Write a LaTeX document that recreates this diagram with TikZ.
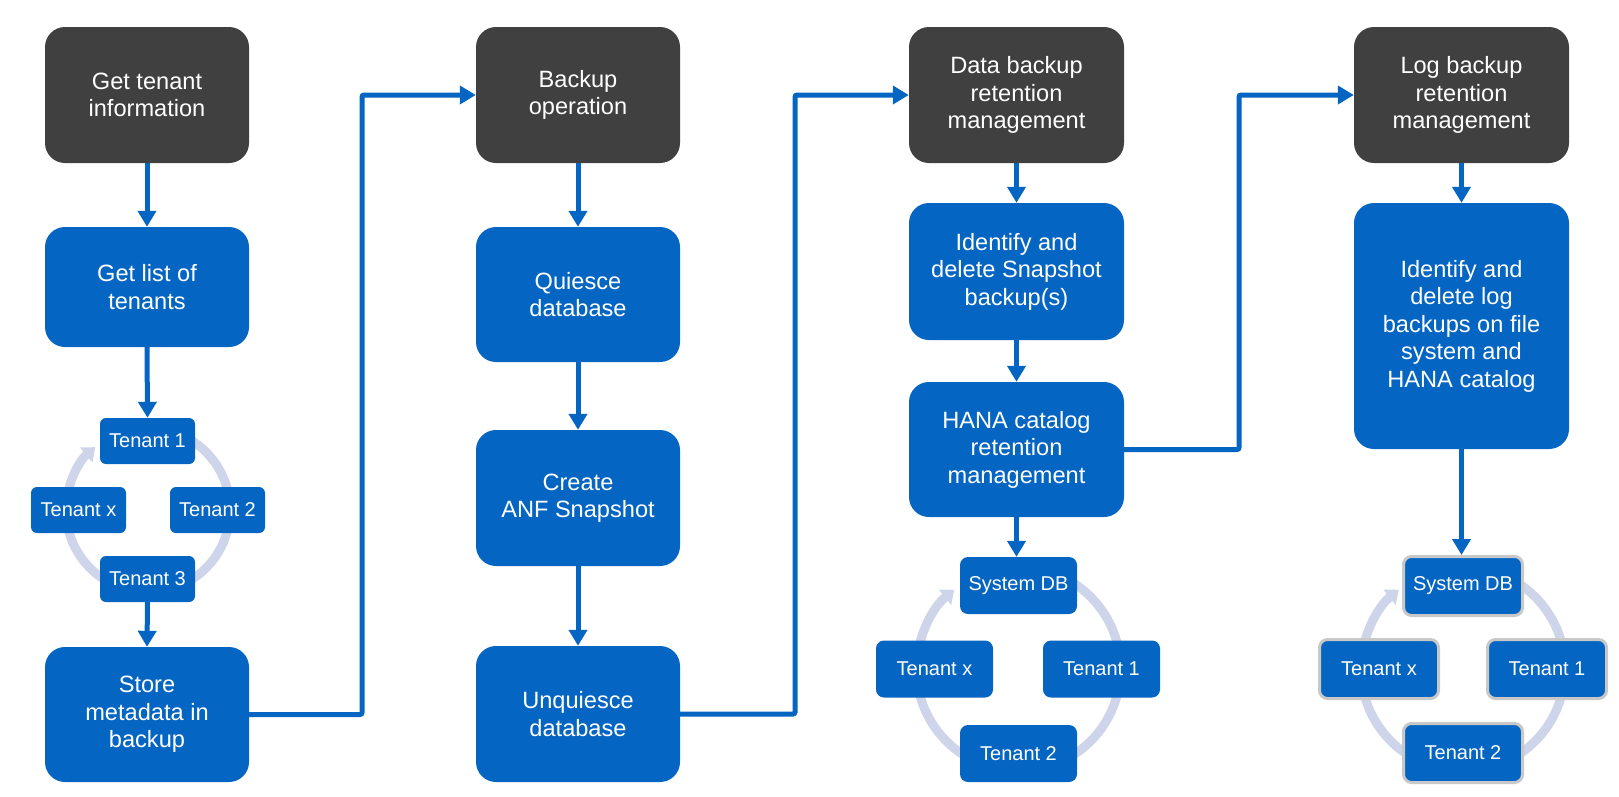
\documentclass[tikz,border=0pt]{standalone}
\usepackage{fontspec}
\setmainfont{Liberation Sans}
\usetikzlibrary{arrows.meta}
\definecolor{boxdark}{RGB}{64,64,64}
\definecolor{boxblue}{RGB}{5,101,194}
\definecolor{ringc}{RGB}{206,212,234}
\definecolor{rimc}{RGB}{200,200,200}
\begin{document}
\begin{tikzpicture}[x=1pt,y=-1pt,
 big/.style={rectangle, rounded corners=20pt, inner sep=0pt, align=center, text=white, font=\fontsize{23.6}{27.5}\selectfont},
 darkbox/.style={big, fill=boxdark},
 bluebox/.style={big, fill=boxblue},
 colA/.style={minimum width=204pt},
 colB/.style={minimum width=215pt},
 tsmall/.style={rectangle, rounded corners=6pt, fill=boxblue, text=white, inner sep=0pt, font=\fontsize{20}{24}\selectfont, minimum width=95pt, minimum height=46pt},
 tmid/.style={rectangle, rounded corners=8pt, fill=boxblue, text=white, inner sep=0pt, font=\fontsize{20}{24}\selectfont, minimum width=117pt, minimum height=57pt},
 tring/.style={rectangle, rounded corners=8pt, fill=boxblue, draw=rimc, line width=3pt, text=white, inner sep=0pt, font=\fontsize{20}{24}\selectfont, minimum width=119pt, minimum height=59pt},
 flow/.style={draw=boxblue, line width=5pt, -{Triangle[width=18pt,length=16pt]}},
 ring/.style={draw=ringc, line width=9pt, -{Triangle[width=19pt,length=12pt]}},
]
\useasboundingbox (0,0) rectangle (1619,796);

% cycle rings (drawn first, under boxes); y axis points down, so angles are mirrored
\draw[ring] (148,510) ++(-80:82) arc[start angle=-80, end angle=230, radius=82];
\draw[ring] (1018.5,669) ++(-80:102) arc[start angle=-80, end angle=231, radius=102];
\draw[ring] (1463,669) ++(-80:102) arc[start angle=-80, end angle=231, radius=102];

% column 1
\node[darkbox, colA, minimum height=136pt] (d1) at (147,95) {Get tenant\\information};
\node[bluebox, colA, minimum height=120pt] (g1) at (147,287) {Get list of\\tenants};
\node[tsmall] (t1) at (147.5,441) {Tenant 1};
\node[tsmall] (tx) at (78.5,510) {Tenant x};
\node[tsmall] (t2) at (217.5,510) {Tenant 2};
\node[tsmall] (t3) at (147.5,579) {Tenant 3};
\node[bluebox, colA, minimum height=135pt] (st) at (147,714.5) {Store\\metadata in\\backup};

% column 2
\node[darkbox, colA, minimum height=136pt] (d2) at (578,95) {Backup\\operation};
\node[bluebox, colA, minimum height=135pt] (qu) at (578,294.5) {Quiesce\\database};
\node[bluebox, colA, minimum height=136pt] (cr) at (578,498) {Create\\ANF Snapshot};
\node[bluebox, colA, minimum height=136pt] (un) at (578,714) {Unquiesce\\database};

% column 3
\node[darkbox, colB, minimum height=136pt] (d3) at (1016.5,95) {Data backup\\retention\\management};
\node[bluebox, colB, minimum height=137pt] (id) at (1016.5,271.5) {Identify and\\delete Snapshot\\backup(s)};
\node[bluebox, colB, minimum height=135pt] (hc) at (1016.5,449.5) {HANA catalog\\retention\\management};
\node[tmid] (s3) at (1018.5,585.5) {System DB};
\node[tmid] (x3) at (934.5,669) {Tenant x};
\node[tmid] (a3) at (1101.5,669) {Tenant 1};
\node[tmid] (b3) at (1018.5,753.5) {Tenant 2};

% column 4
\node[darkbox, colB, minimum height=136pt] (d4) at (1461.5,95) {Log backup\\retention\\management};
\node[bluebox, colB, minimum height=246pt] (il) at (1461.5,326) {Identify and\\delete log\\backups on file\\system and\\HANA catalog};
\node[tring] (s4) at (1463,586) {System DB};
\node[tring] (x4) at (1379,669) {Tenant x};
\node[tring] (a4) at (1547,669) {Tenant 1};
\node[tring] (b4) at (1463,753) {Tenant 2};

% junction coordinates
\coordinate (j1) at (362,400);
\coordinate (j2) at (795,400);
\coordinate (j3) at (1239,300);

% vertical flows
\draw[flow] (d1.south) -- (g1.north);
\draw[flow] (g1.south) -- (t1.north);
\draw[flow] (t3.south) -- (st.north);
\draw[flow] (d2.south) -- (qu.north);
\draw[flow] (qu.south) -- (cr.north);
\draw[flow] (cr.south) -- (un.north);
\draw[flow] (d3.south) -- (id.north);
\draw[flow] (id.south) -- (hc.north);
\draw[flow] (hc.south) -- (hc.south |- s3.north);
\draw[flow] (d4.south) -- (il.north);
\draw[flow] (il.south) -- (il.south |- s4.north);

% column-to-column flows
\draw[flow, rounded corners=2pt] (st.east) -| (j1) |- (d2.west);
\draw[flow, rounded corners=2pt] (un.east) -| (j2) |- (d3.west);
\draw[flow, rounded corners=2pt] (hc.east) -| (j3) |- (d4.west);
\end{tikzpicture}
\end{document}
